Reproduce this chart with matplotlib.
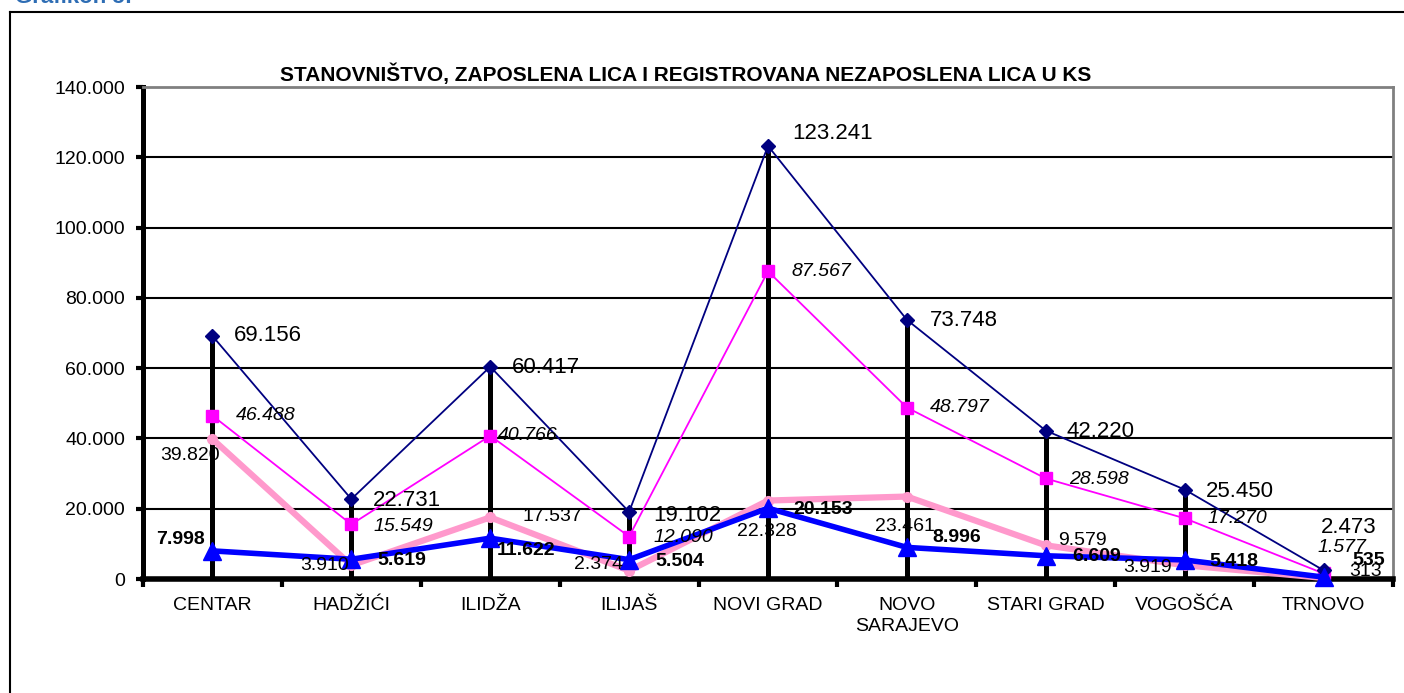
import matplotlib
matplotlib.use("Agg")
import matplotlib.pyplot as plt
from matplotlib.lines import Line2D

plt.rcParams["font.family"] = ["Liberation Sans", "DejaVu Sans"]

# data
opcine = ["CENTAR", "HADŽIĆI", "ILIDŽA", "ILIJAŠ", "NOVI GRAD",
          "NOVO\nSARAJEVO", "STARI GRAD", "VOGOŠĆA", "TRNOVO"]
stanovnistvo = [69156, 22731, 60417, 19102, 123241, 73748, 42220, 25450, 2473]
radno_sposobni = [46488, 15549, 40766, 12090, 87567, 48797, 28598, 17270, 1577]
zaposleni = [39820, 3910, 17537, 2374, 22328, 23461, 9579, 3919, 313]
nezaposleni = [7998, 5619, 11622, 5504, 20153, 8996, 6609, 5418, 535]
y_ticks = [0, 20000, 40000, 60000, 80000, 100000, 120000, 140000]
naslov = "STANOVNIŠTVO, ZAPOSLENA LICA I REGISTROVANA NEZAPOSLENA LICA U KS"

# label offsets in pixels (dx, dy up, ha)
off_stan = [(21, 0, "left"), (22, -1, "left"), (22, -1, "left"), (24, -4, "left"),
            (24, 12, "left"), (23, -1, "left"), (21, -1, "left"), (21, -2, "left"),
            (-3, 43, "left")]
off_radno = [(23, 0, "left"), (22, -2, "left"), (8, 0, "left"), (24, -1, "left"),
             (23, 0, "left"), (23, 0, "left"), (23, -1, "left"), (23, 0, "left"),
             (-6, 26, "left")]
off_zap = [(7, -16, "right"), (-2, 0, "right"), (32, 1, "left"), (-6, 6, "right"),
           (-1, -31, "center"), (-2, -30, "center"), (12, 5, "left"), (-13, -2, "right"),
           (26, 6, "left")]
off_nez = [(-8, 11, "right"), (26, -1, "left"), (7, -12, "left"), (26, -2, "left"),
           (25, -1, "left"), (25, 10, "left"), (26, -1, "left"), (25, -2, "left"),
           (29, 17, "left")]


def fmt(v):
    return f"{v:,}".replace(",", ".")


W, H = 1404, 693
fig = plt.figure(figsize=(W / 100, H / 100), dpi=100)
ax = fig.add_axes([143 / W, 1 - 579 / H, (1393 - 143) / W, (579 - 87) / H])

x = list(range(len(opcine)))

# grid
for v in y_ticks[1:-1]:
    ax.axhline(v, color="black", lw=1.5, zorder=1)

# high-low lines
ax.vlines(x, 0, [max(a, b, c, d) for a, b, c, d in
                 zip(stanovnistvo, radno_sposobni, zaposleni, nezaposleni)],
          color="black", lw=3.6, zorder=2)

ax.plot(x, zaposleni, color="#FF99CC", lw=4.5, marker="o", ms=7,
        solid_capstyle="round", zorder=3, clip_on=False)
ax.plot(x, radno_sposobni, color="#FF00FF", lw=1.3, marker="s", ms=9, zorder=4,
        clip_on=False)
ax.plot(x, stanovnistvo, color="#000080", lw=1.3, marker="D", ms=7, zorder=5,
        clip_on=False)
ax.plot(x, nezaposleni, color="#0000FF", lw=4, marker="^", ms=13, zorder=6,
        clip_on=False)


def labels(vals, offs, **kw):
    for xi, v, (dx, dy, ha) in zip(x, vals, offs):
        ax.annotate(fmt(v), (xi, v), xytext=(dx * 0.72, dy * 0.72),
                    textcoords="offset points", ha=ha, va="center",
                    zorder=10, **kw)


labels(stanovnistvo, off_stan, fontsize=16)
labels(radno_sposobni, off_radno, fontsize=14, style="italic")
labels(zaposleni, off_zap, fontsize=14)
labels(nezaposleni, off_nez, fontsize=14, fontweight="bold")

ax.set_xlim(-0.5, len(opcine) - 0.5)
ax.set_ylim(0, 140000)
ax.set_yticks(y_ticks)
ax.set_yticklabels([fmt(v) for v in y_ticks], fontsize=14)
ax.set_xticks(x)
ax.set_xticklabels(opcine, fontsize=14, linespacing=1.3)
ax.set_xticks([i - 0.5 for i in range(len(opcine) + 1)], minor=True)
ax.tick_params(axis="x", which="major", length=0, pad=13)
ax.tick_params(axis="x", which="minor", length=6, width=3, direction="out")
ax.tick_params(axis="y", length=5, width=3, direction="out", pad=8)

ax.spines["left"].set_linewidth(3.6)
ax.spines["bottom"].set_linewidth(4)
for s in ("top", "right"):
    ax.spines[s].set_color("#808080")
    ax.spines[s].set_linewidth(2)

fig.text(686 / W, 1 - 74 / H, naslov, ha="center", va="center",
         fontsize=15, fontweight="bold")

# outer frame and cut header
fig.add_artist(Line2D([10 / W, 1], [1 - 12 / H, 1 - 12 / H], color="black", lw=1.5))
fig.add_artist(Line2D([10 / W, 10 / W], [0, 1 - 12 / H], color="black", lw=1.5))
fig.text(15 / W, 1 - 3 / H, "Grafikon 5:", ha="left", va="baseline",
         fontsize=16, fontweight="bold", color="#2E6DB4")

fig.savefig("out.png", dpi=100)
